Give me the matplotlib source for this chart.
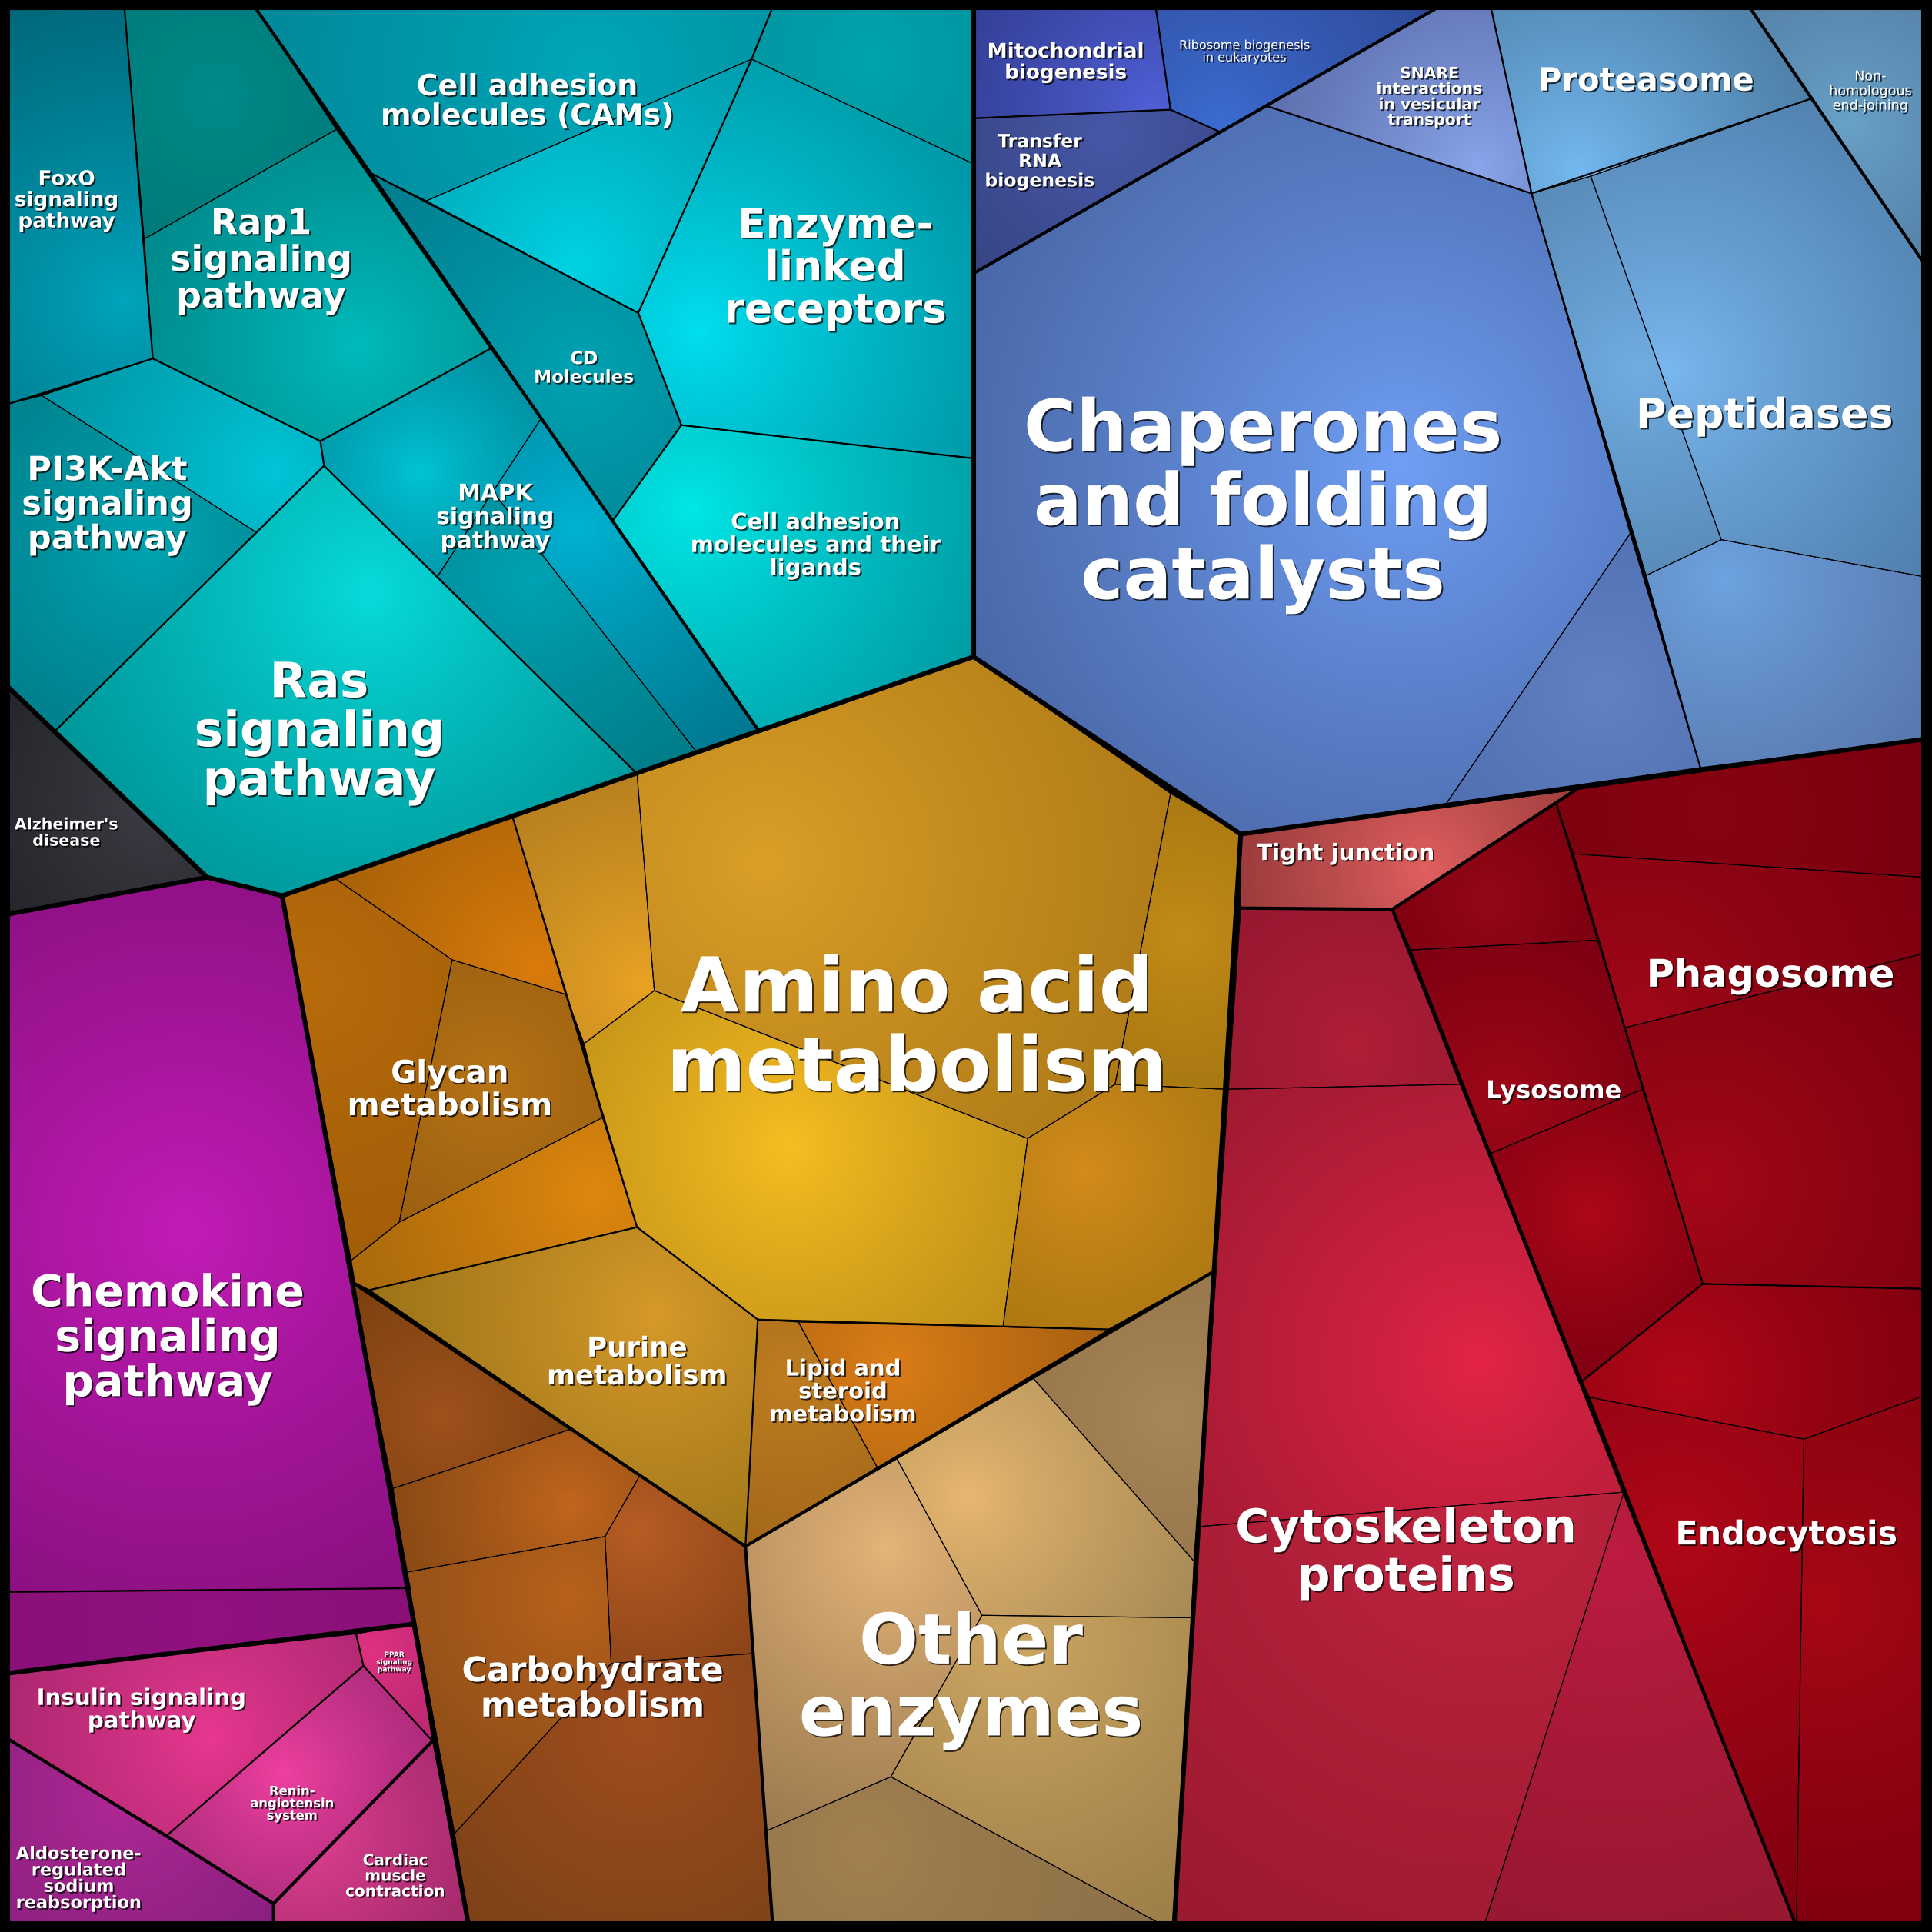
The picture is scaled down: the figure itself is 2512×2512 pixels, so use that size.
import numpy as np
import matplotlib
matplotlib.use("Agg")
import matplotlib.pyplot as plt
from matplotlib.patches import Polygon
import matplotlib.patheffects as pe
from matplotlib.colors import to_rgb

# canvas units are the 1568 x 1568 picture grid (y grows downward)
SIZE = 1568.0
U = 2512 / SIZE * 72 / 100  # one grid unit in points

# ---- labels shown in the cells ----
label_names = [
    "FoxO\nsignaling\npathway", "Rap1\nsignaling\npathway", "PI3K-Akt\nsignaling\npathway",
    "Ras\nsignaling\npathway", "MAPK\nsignaling\npathway", "Cell adhesion\nmolecules (CAMs)",
    "CD\nMolecules", "Enzyme-\nlinked\nreceptors", "Cell adhesion\nmolecules and their\nligands",
    "Alzheimer's\ndisease", "Mitochondrial\nbiogenesis", "Ribosome biogenesis\nin eukaryotes",
    "SNARE\ninteractions\nin vesicular\ntransport", "Transfer\nRNA\nbiogenesis", "Proteasome",
    "Non-\nhomologous\nend-joining", "Chaperones\nand folding\ncatalysts", "Peptidases",
    "Amino acid\nmetabolism", "Glycan\nmetabolism", "Purine\nmetabolism",
    "Lipid and\nsteroid\nmetabolism", "Carbohydrate\nmetabolism", "Other\nenzymes",
    "Chemokine\nsignaling\npathway", "Insulin signaling\npathway", "PPAR\nsignaling\npathway",
    "Renin-\nangiotensin\nsystem", "Aldosterone-\nregulated\nsodium\nreabsorption",
    "Cardiac\nmuscle\ncontraction", "Tight junction", "Lysosome", "Phagosome",
    "Cytoskeleton\nproteins", "Endocytosis",
]
# x, y, width of widest line, bold?
label_layout = [
    (54, 163, 84, True), (212, 212, 147, True), (87, 410, 138, True),
    (259, 595, 202, True), (402, 420, 95, True), (428, 83, 238, True),
    (474, 299, 81, True), (678, 218, 181, True), (662, 443, 203, True),
    (54, 676, 84, True), (865, 51, 127, True), (1010, 42, 106, False),
    (1160, 79, 86, True), (844, 131, 89, True), (1336, 66, 176, True),
    (1518, 74, 67, False), (1025, 410, 390, True), (1432, 338, 209, True),
    (744, 836, 405, True), (365, 885, 166, True), (517, 1106, 146, True),
    (684, 1130, 119, True), (481, 1371, 213, True), (788, 1364, 279, True),
    (136, 1087, 222, True), (115, 1388, 169, True), (320, 1349, 29, True),
    (237, 1464, 68, True), (64, 1525, 102, True),
    (321, 1523, 81, True), (1092, 693, 144, True), (1261, 886, 110, True), (1437, 792, 202, True),
    (1141, 1261, 277, True), (1450, 1246, 180, True),
]

# ---- cells: polygon, edge colour, centre colour, highlight point ----
cells = [
    # signal transduction / cell communication (teal)
    ([(6, 6), (101, 6), (124, 291), (6, 328)], "#00687a", "#00a5bd", (100, 245)),
    ([(101, 6), (207, 6), (273, 105), (117, 194)], "#007a7a", "#008a8a", None),
    ([(117, 194), (273, 105), (398, 283), (260, 358), (124, 291)], "#008a8c", "#00bcbc", (290, 280)),
    ([(34, 321), (124, 291), (260, 358), (263, 378), (208, 432)], "#0095a5", "#00c6d8", (222, 383)),
    ([(6, 328), (34, 321), (208, 432), (45, 593), (6, 557)], "#00808c", "#00a6b4", (120, 440)),
    ([(263, 378), (517, 628), (229, 727), (168, 712), (45, 593)], "#00979a", "#08dcdc", (300, 480)),
    ([(260, 358), (398, 283), (439, 340), (400, 399), (355, 468), (263, 378)], "#0090a2", "#00c4d6", (341, 383)),
    ([(439, 340), (615, 592), (565, 610), (400, 399)], "#007890", "#00b4d4", (468, 428)),
    ([(400, 399), (565, 610), (517, 628), (355, 468)], "#007c88", "#00a4b4", (430, 470)),
    ([(207, 6), (627, 6), (610, 48), (346, 163), (300, 140)], "#00899a", "#00a8ba", (480, 60)),
    ([(346, 163), (610, 48), (518, 254)], "#009cae", "#00d4e4", (468, 214)),
    ([(300, 140), (518, 254), (553, 345), (497, 423)], "#007c8c", "#00a4b4", (470, 300)),
    ([(610, 48), (790, 133), (790, 372), (553, 345), (518, 254)], "#0096a6", "#00e0f0", (567, 268)),
    ([(627, 6), (790, 6), (790, 133), (610, 48)], "#00959f", "#00a4ae", None),
    ([(553, 345), (790, 372), (790, 533), (615, 592), (497, 423)], "#009ca4", "#00e8e8", (560, 413)),
    ([(6, 557), (168, 712), (6, 742)], "#25262b", "#3e3f46", (130, 650)),
    # genetic information processing (blue)
    ([(790, 6), (938, 6), (950, 89), (790, 96)], "#343f96", "#5060d6", (935, 85)),
    ([(938, 6), (1167, 6), (990, 107), (950, 89)], "#2e4a98", "#3c6cd2", (990, 100)),
    ([(790, 96), (950, 89), (990, 107), (790, 222)], "#374585", "#4858a8", (900, 110)),
    ([(1028, 86), (1167, 6), (1210, 6), (1243, 157)], "#5d6fae", "#8aa6ec", (1200, 135)),
    ([(1210, 6), (1420, 6), (1470, 80), (1291, 143), (1243, 157)], "#4f80a8", "#74baf2", (1280, 138)),
    ([(1420, 6), (1561, 6), (1561, 213)], "#5682a8", "#6aa2c8", (1500, 100)),
    ([(790, 222), (1028, 86), (1243, 157), (1323, 433), (1174, 652), (1007, 677), (790, 533)],
     "#4a68a8", "#70a0f6", (1137, 378)),
    ([(1323, 433), (1380, 623), (1174, 652)], "#5070b2", "#6282c4", (1300, 560)),
    ([(1243, 157), (1291, 143), (1397, 438), (1336, 467)], "#5a8cba", "#72aee4", (1330, 300)),
    ([(1291, 143), (1470, 80), (1561, 213), (1561, 468), (1397, 438)], "#5080ae", "#7ab8f0", (1355, 301)),
    ([(1336, 467), (1397, 438), (1561, 468), (1561, 600), (1380, 623)], "#5878ae", "#6ea4e2", (1400, 470)),
    # metabolism (orange)
    ([(229, 727), (272, 713), (367, 779), (324, 992), (285, 1023)], "#a35e08", "#b86c0c", (250, 800)),
    ([(272, 713), (416, 663), (459, 807), (367, 779)], "#a86208", "#dc7c0c", (436, 786)),
    ([(367, 779), (459, 807), (489, 907), (324, 992)], "#9c6010", "#b87416", (400, 880)),
    ([(324, 992), (489, 907), (517, 996), (300, 1047), (288, 1041), (285, 1023)], "#aa6a0c", "#e0880e", (482, 968)),
    ([(416, 663), (517, 628), (531, 804), (474, 847), (459, 807)], "#b88020", "#eaa424", (522, 798)),
    ([(517, 628), (790, 533), (950, 644), (905, 880), (834, 924), (531, 804)], "#b07c18", "#dca028", (620, 700)),
    ([(474, 847), (531, 804), (834, 924), (814, 1077), (615, 1071), (517, 996), (489, 907)],
     "#c09018", "#f8bf22", (640, 930)),
    ([(950, 644), (1007, 677), (994, 884), (905, 880)], "#a87812", "#c48c18", (960, 760)),
    ([(905, 880), (994, 884), (985, 1032), (900, 1079), (814, 1077), (834, 924)], "#ad7812", "#d48c1c", (880, 950)),
    ([(300, 1047), (517, 996), (615, 1071), (605, 1255)], "#9c7418", "#d89a2a", (532, 1067)),
    ([(615, 1071), (648, 1073), (712, 1191), (605, 1255)], "#a4681a", "#c07e20", (640, 1120)),
    ([(648, 1073), (900, 1079), (712, 1191)], "#a86010", "#dc7e18", (724, 1106)),
    ([(285, 1040), (463, 1160), (319, 1208)], "#7c4010", "#a0521c", (360, 1150)),
    ([(319, 1208), (463, 1160), (519, 1198), (491, 1247), (330, 1276)], "#8a4a14", "#c2661e", (463, 1222)),
    ([(519, 1198), (605, 1255), (611, 1342), (496, 1350), (491, 1247)], "#8c4418", "#b85e24", (518, 1242)),
    ([(330, 1276), (491, 1247), (496, 1350), (369, 1488)], "#884a16", "#b8621c", (463, 1296)),
    ([(369, 1488), (496, 1350), (611, 1342), (627, 1561), (380, 1561)], "#7e4218", "#a24e1e", (520, 1400)),
    ([(605, 1255), (728, 1184), (797, 1311), (723, 1442), (622, 1486)], "#9c7a50", "#e6b679", (720, 1256)),
    ([(728, 1184), (838, 1118), (969, 1267), (967, 1313), (797, 1311)], "#a88a56", "#e8b870", (785, 1215)),
    ([(838, 1118), (985, 1032), (969, 1267)], "#98784c", "#a8885a", (950, 1150)),
    ([(797, 1311), (967, 1313), (953, 1561), (941, 1561), (723, 1442)], "#9c7e48", "#d0a864", (820, 1330)),
    ([(723, 1442), (941, 1561), (627, 1561), (622, 1486)], "#8c7048", "#a28050", (700, 1500)),
    # organismal systems (purple / pink)
    ([(6, 742), (168, 712), (229, 727), (333, 1289), (6, 1292)], "#8a1080", "#c41cb8", (150, 1000)),
    ([(6, 1292), (333, 1289), (336, 1318), (6, 1358)], "#8a1078", "#921280", None),
    ([(6, 1358), (289, 1326), (295, 1352), (135, 1490), (6, 1411)], "#ac2870", "#e8388f", (170, 1410)),
    ([(289, 1326), (336, 1318), (351, 1413), (295, 1352)], "#b82870", "#e03282", (300, 1340)),
    ([(295, 1352), (351, 1413), (222, 1545), (135, 1490)], "#ac2c7c", "#f040a0", (230, 1440)),
    ([(6, 1411), (135, 1490), (222, 1545), (222, 1561), (6, 1561)], "#8a2080", "#b02894", (97, 1463)),
    ([(351, 1413), (380, 1561), (222, 1561), (222, 1545)], "#a42a6c", "#e04090", (250, 1490)),
    # cellular processes (red)
    ([(1007, 677), (1279, 641), (1130, 738), (1007, 737)], "#9c3c3c", "#e26060", (1156, 705)),
    ([(1007, 737), (1130, 738), (1185, 880), (997, 884)], "#961830", "#b21e38", (1100, 850)),
    ([(997, 884), (1185, 880), (1318, 1211), (973, 1239)], "#a01a32", "#e42448", (1199, 1106)),
    ([(973, 1239), (1318, 1211), (1205, 1561), (953, 1561)], "#9a1a30", "#c42440", (1203, 1216)),
    ([(1318, 1211), (1457, 1561), (1205, 1561)], "#961830", "#be1c40", (1310, 1260)),
    ([(1130, 738), (1263, 652), (1297, 763), (1145, 771)], "#7c0010", "#960818", None),
    ([(1145, 771), (1297, 763), (1333, 884), (1210, 936)], "#7c0012", "#a00818", (1220, 890)),
    ([(1210, 936), (1333, 884), (1382, 1042), (1284, 1121)], "#800012", "#ae0818", (1290, 986)),
    ([(1263, 652), (1279, 641), (1561, 600), (1561, 712), (1277, 693)], "#7a0010", "#880412", None),
    ([(1277, 693), (1561, 712), (1561, 774), (1319, 834)], "#7e0010", "#a00818", (1330, 820)),
    ([(1319, 834), (1561, 774), (1561, 1046), (1382, 1042)], "#7a0010", "#a60818", (1380, 960)),
    ([(1382, 1042), (1561, 1046), (1561, 1133), (1464, 1168), (1290, 1134), (1284, 1121)],
     "#820010", "#b20818", (1362, 1119)),
    ([(1290, 1134), (1464, 1168), (1458, 1561), (1457, 1561)], "#800010", "#b00818", (1360, 1250)),
    ([(1464, 1168), (1561, 1133), (1561, 1561), (1458, 1561)], "#800010", "#a80814", (1480, 1300)),
]

# ---- hierarchy borders (level 1 = thickest) ----
borders_1 = [
    [(790, 6), (790, 533)],
    [(6, 557), (168, 712), (229, 727), (790, 533), (1007, 677), (1561, 600)],
    [(168, 712), (6, 742)],
    [(1007, 677), (953, 1561)],
    [(229, 727), (380, 1561)],
    [(6, 1358), (336, 1318)],
    [(6, 6), (1561, 6), (1561, 1561), (6, 1561), (6, 6)],
]
borders_2 = [
    [(207, 6), (615, 592)],
    [(790, 222), (1167, 6)],
    [(1420, 6), (1561, 213)],
    [(285, 1040), (605, 1255), (985, 1032)],
    [(605, 1255), (627, 1561)],
    [(1130, 738), (1457, 1561)],
    [(1007, 737), (1130, 738), (1279, 641)],
    [(6, 1411), (135, 1490), (222, 1545), (222, 1561)],
    [(222, 1545), (351, 1413)],
]
borders_3 = [
    [(101, 6), (124, 291)],
    [(6, 328), (124, 291), (260, 358), (398, 283)],
    [(260, 358), (263, 378)],
    [(45, 593), (263, 378), (517, 628)],
    [(300, 140), (518, 254)],
    [(627, 6), (610, 48), (518, 254), (553, 345), (497, 423)],
    [(553, 345), (790, 372)],
    [(790, 96), (950, 89), (990, 107)],
    [(938, 6), (950, 89)],
    [(1028, 86), (1243, 157), (1470, 80)],
    [(1210, 6), (1243, 157), (1380, 623)],
    [(416, 663), (517, 996)],
    [(300, 1047), (517, 996), (615, 1071), (900, 1079), (985, 1032)],
    [(615, 1071), (605, 1255)],
    [(6, 1292), (333, 1289)],
    [(135, 1490), (295, 1352), (289, 1326)],
    [(295, 1352), (351, 1413)],
    [(1263, 652), (1382, 1042)],
    [(1284, 1121), (1382, 1042), (1561, 1046)],
]


def shade_cell(ax, pts, c_edge, c_mid, hl):
    pts = np.asarray(pts, dtype=float)
    if hl is None:
        hl = pts.mean(axis=0)
    hx, hy = hl
    x0, y0 = pts.min(axis=0) - 2
    x1, y1 = pts.max(axis=0) + 2
    n = 140
    gx, gy = np.meshgrid(np.linspace(x0, x1, n), np.linspace(y0, y1, n))
    rmax = np.max(np.hypot(pts[:, 0] - hx, pts[:, 1] - hy))
    t = np.clip(np.hypot(gx - hx, gy - hy) / rmax, 0, 1) ** 0.85
    ce, cm = np.array(to_rgb(c_edge)), np.array(to_rgb(c_mid))
    img = cm[None, None, :] * (1 - t[..., None]) + ce[None, None, :] * t[..., None]
    im = ax.imshow(img, extent=(x0, x1, y1, y0), origin="upper",
                   interpolation="bilinear", zorder=1)
    clip = Polygon(pts, closed=True, transform=ax.transData)
    im.set_clip_path(clip)
    ax.add_patch(Polygon(pts, closed=True, facecolor="none", edgecolor="black",
                         lw=0.7 * U, zorder=2, joinstyle="round"))


fig = plt.figure(figsize=(25.12, 25.12), dpi=100, facecolor="black")
ax = fig.add_axes([0, 0, 1, 1])
ax.set_xlim(0, SIZE)
ax.set_ylim(SIZE, 0)
ax.set_facecolor("black")
ax.axis("off")

for pts, ce, cm, hl in cells:
    shade_cell(ax, pts, ce, cm, hl)

for lines, w, z in ((borders_3, 1.4, 3), (borders_2, 2.6, 4), (borders_1, 3.8, 5)):
    for line in lines:
        xy = np.asarray(line, dtype=float)
        ax.plot(xy[:, 0], xy[:, 1], color="black", lw=w * U, zorder=z,
                solid_joinstyle="round", solid_capstyle="round")

shadow = [pe.SimplePatchShadow(offset=(1.4, -1.4), shadow_rgbFace="black", alpha=0.75),
          pe.Normal()]
texts = []
for name, (x, y, w, bold) in zip(label_names, label_layout):
    t = ax.text(x, y, name, ha="center", va="center", color="white",
                fontsize=10, fontweight="bold" if bold else "normal",
                family="DejaVu Sans", linespacing=1.08, multialignment="center",
                path_effects=shadow, zorder=10)
    texts.append((t, w))

renderer = fig.canvas.get_renderer()
for t, w in texts:
    bw = t.get_window_extent(renderer=renderer).width
    target = w * 2512 / SIZE
    t.set_fontsize(10 * target / bw)

fig.savefig("out.png", dpi=100, facecolor="black")
